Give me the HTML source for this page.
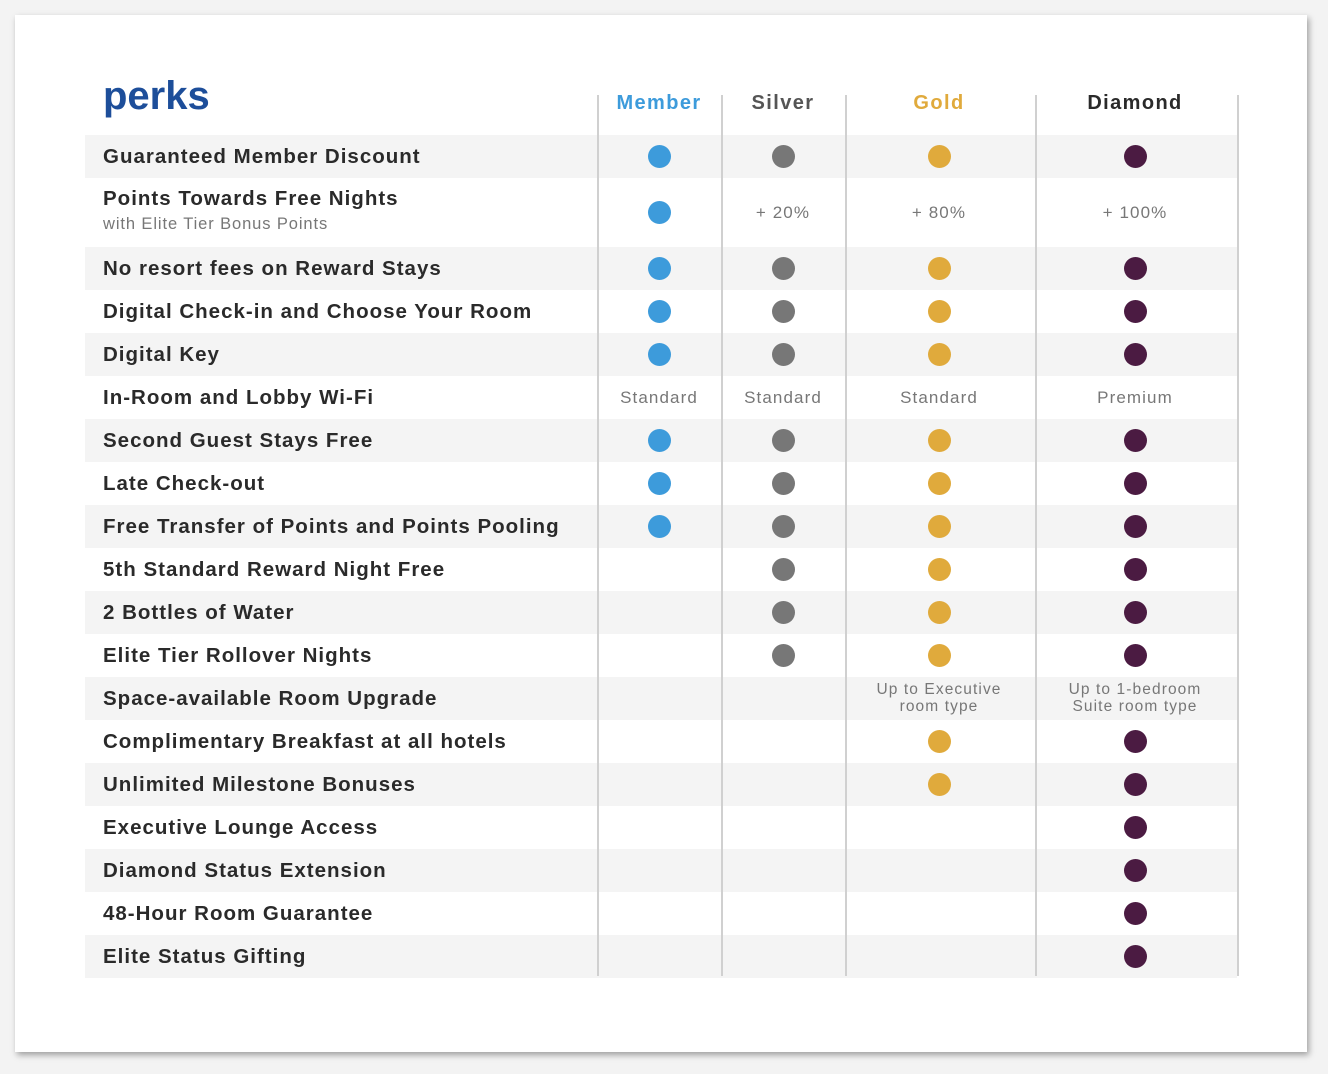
<!DOCTYPE html>
<html><head><meta charset="utf-8"><style>
body{margin:0;width:1328px;height:1074px;background:#f3f3f3;font-family:"Liberation Sans",sans-serif;position:relative;overflow:hidden}
#card{position:absolute;left:15px;top:15px;width:1292px;height:1037px;background:#fff;box-shadow:2px 3px 6px rgba(0,0,0,0.35)}
.abs{position:absolute}
.lbl{position:absolute;left:103px;font-weight:bold;font-size:20.5px;color:#2a2a2a;letter-spacing:1px;white-space:nowrap}
.sub{position:absolute;left:103px;font-size:16.5px;color:#777;letter-spacing:0.9px;white-space:nowrap}
.txt{position:absolute;font-size:17px;color:#777;text-align:center;transform:translateX(-50%);white-space:nowrap;line-height:17px;letter-spacing:1.1px}
.dot{position:absolute;width:23px;height:23px;border-radius:50%}
.hdr{position:absolute;top:92px;font-weight:bold;font-size:20px;letter-spacing:1.4px;transform:translateX(-50%)}
</style></head><body>
<div id="card"></div>
<div class="abs" style="left:103px;top:74px;font-size:40px;font-weight:bold;color:#1d4e9a;letter-spacing:0px">perks</div>
<div id="t"></div>
<script>
const perks=["Guaranteed Member Discount","Points Towards Free Nights","No resort fees on Reward Stays","Digital Check-in and Choose Your Room","Digital Key","In-Room and Lobby Wi-Fi","Second Guest Stays Free","Late Check-out","Free Transfer of Points and Points Pooling","5th Standard Reward Night Free","2 Bottles of Water","Elite Tier Rollover Nights","Space-available Room Upgrade","Complimentary Breakfast at all hotels","Unlimited Milestone Bonuses","Executive Lounge Access","Diamond Status Extension","48-Hour Room Guarantee","Elite Status Gifting"];
const tiers=["Member","Silver","Gold","Diamond"];
const member=[1,1,1,1,1,"Standard",1,1,1,0,0,0,0,0,0,0,0,0,0];
const silver=[1,"+ 20%",1,1,1,"Standard",1,1,1,1,1,1,0,0,0,0,0,0,0];
const gold=[1,"+ 80%",1,1,1,"Standard",1,1,1,1,1,1,"Up to Executive\nroom type",1,1,0,0,0,0];
const diamond=[1,"+ 100%",1,1,1,"Premium",1,1,1,1,1,1,"Up to 1-bedroom\nSuite room type",1,1,1,1,1,1];
const series=[member,silver,gold,diamond];
const colors=["#3d9bdb","#777777","#e0aa3c","#4b1b42"];
const hdrColors=["#3d9bdb","#555","#e0aa3c","#2a2a2a"];
const colX=[659,783,939,1135];
const dividers=[597,721,845,1035,1237];
const t=document.getElementById('t');
function rowTop(i){return 134.5+i*43+(i>=2?26:0);}
function rowH(i){return i===1?69:43;}
function mk(cls,style){const e=document.createElement('div');e.className=cls;e.style.cssText=style;t.appendChild(e);return e;}
perks.forEach((p,i)=>{
  const y=rowTop(i),h=rowH(i),c=y+h/2;
  if(i%2===0){const s=mk('abs',`left:85px;top:${y}px;width:1152px;height:${h}px;background:#f4f4f4`);
  
  }
  const l=mk('lbl',`top:${(i===1?c-25:c-11)}px`);l.textContent=p;
  
  
  if(i===1){const sb=mk('sub',`top:${c+3}px`);sb.textContent='with Elite Tier Bonus Points';
  
  }
  series.forEach((ser,k)=>{
    const v=ser[i];
    if(v===1){const d=mk('dot',`left:${colX[k]-11.5}px;top:${c-11.5}px;background:${colors[k]}`);
    
    }
    else if(typeof v==='string'){const lines=v.split('\n');
      const e=mk('txt',`left:${colX[k]}px;top:${c-lines.length*8.5}px;font-size:${lines.length>1?15.5:17}px`);
      e.innerHTML=lines.join('<br>');
      
      }
  });
});
dividers.forEach(x=>{const d=mk('abs',`left:${x}px;top:95px;width:2px;height:881px;background:#d0d0d0`);

});
tiers.forEach((n,k)=>{const h=mk('hdr',`left:${colX[k]}px;color:${hdrColors[k]}`);h.textContent=n;

});
</script>
</body></html>
